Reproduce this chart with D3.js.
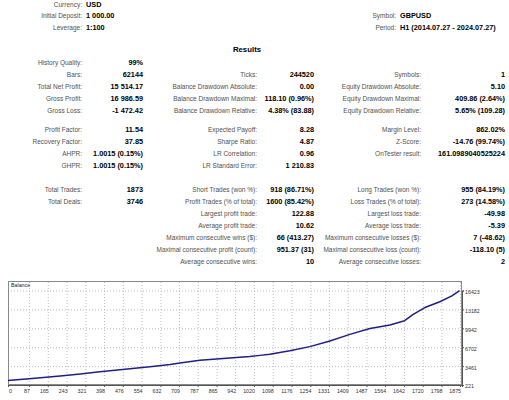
<!DOCTYPE html>
<html>
<head>
<meta charset="utf-8">
<script src="https://cdn.jsdelivr.net/npm/d3@7"></script>
<style>
  html, body { margin: 0; padding: 0; background: #fff; }
  svg { display: block; font-family: "Liberation Sans", Arial, sans-serif; }
  .lbl { font-size: 6.5px; fill: #505050; }
  .val { font-size: 7.3px; font-weight: bold; fill: #000; }
  .axis text { font-size: 5.3px; fill: #333; font-family: "Liberation Sans", Arial, sans-serif; }
</style>
</head>
<body>
<svg id="report" width="509" height="400"></svg>
<script>
// ── Header ────────────────────────────────────────────────────────────────────
const headLeftLabels  = ['Currency:', 'Initial Deposit:', 'Leverage:'];
const headLeftValues  = ['USD', '1 000.00', '1:100'];
const headRightLabels = ['Symbol:', 'Period:'];
const headRightValues = ['GBPUSD', 'H1 (2014.07.27 - 2024.07.27)'];

// ── Results table: one entry per row, null = empty cell ───────────────────────
const col1Labels = ['History Quality:', 'Bars:', 'Total Net Profit:', 'Gross Profit:', 'Gross Loss:',
  'Profit Factor:', 'Recovery Factor:', 'AHPR:', 'GHPR:',
  'Total Trades:', 'Total Deals:', null, null, null, null, null];
const col1Values = ['99%', '62144', '15 514.17', '16 986.59', '-1 472.42',
  '11.54', '37.85', '1.0015 (0.15%)', '1.0015 (0.15%)',
  '1873', '3746', null, null, null, null, null];
const col2Labels = [null, 'Ticks:', 'Balance Drawdown Absolute:', 'Balance Drawdown Maximal:', 'Balance Drawdown Relative:',
  'Expected Payoff:', 'Sharpe Ratio:', 'LR Correlation:', 'LR Standard Error:',
  'Short Trades (won %):', 'Profit Trades (% of total):', 'Largest profit trade:', 'Average profit trade:',
  'Maximum consecutive wins ($):', 'Maximal consecutive profit (count):', 'Average consecutive wins:'];
const col2Values = [null, '244520', '0.00', '118.10 (0.96%)', '4.38% (83.88)',
  '8.28', '4.87', '0.96', '1 210.83',
  '918 (86.71%)', '1600 (85.42%)', '122.88', '10.62',
  '66 (413.27)', '951.37 (31)', '10'];
const col3Labels = [null, 'Symbols:', 'Equity Drawdown Absolute:', 'Equity Drawdown Maximal:', 'Equity Drawdown Relative:',
  'Margin Level:', 'Z-Score:', 'OnTester result:', null,
  'Long Trades (won %):', 'Loss Trades (% of total):', 'Largest loss trade:', 'Average loss trade:',
  'Maximum consecutive losses ($):', 'Maximal consecutive loss (count):', 'Average consecutive losses:'];
const col3Values = [null, '1', '5.10', '409.86 (2.64%)', '5.65% (109.28)',
  '862.02%', '-14.76 (99.74%)', '161.0989040525224', null,
  '955 (84.19%)', '273 (14.58%)', '-49.98', '-5.39',
  '7 (-48.62)', '-118.10 (5)', '2'];

// ── Balance curve (trade # -> balance) ───────────────────────────────────────
const trades  = [0, 100, 216, 300, 381, 506, 589, 672, 713, 796, 920, 1003, 1045, 1086, 1169,
  1252, 1335, 1418, 1501, 1555, 1584, 1645, 1679, 1729, 1791, 1841, 1873];
const balance = [1000, 1350, 1756, 2100, 2489, 3000, 3341, 3750, 4000, 4450, 4850, 5114, 5300, 5500, 6100,
  6800, 7750, 8900, 9900, 10300, 10500, 11250, 12300, 13500, 14500, 15500, 16420];
const xTicks = [0, 87, 165, 243, 321, 398, 476, 554, 632, 709, 787, 865, 942, 1020, 1098,
  1176, 1254, 1331, 1409, 1487, 1564, 1642, 1720, 1798, 1875];
const yTicks = [221, 3461, 6702, 9942, 13182, 16423];

const svg = d3.select('#report');

// header block
const addPair = (lx, vx, y, label, value) => {
  svg.append('text').attr('class', 'lbl').attr('x', lx).attr('y', y)
    .attr('text-anchor', 'end').attr('dominant-baseline', 'middle').text(label);
  svg.append('text').attr('class', 'val').attr('x', vx).attr('y', y)
    .attr('dominant-baseline', 'middle').text(value);
};
headLeftLabels.forEach((l, i) => addPair(82, 86, 5 + i * 11.5, l, headLeftValues[i]));
headRightLabels.forEach((l, i) => addPair(396, 400, 16.5 + i * 11.5, l, headRightValues[i]));

svg.append('text').attr('x', 247).attr('y', 50).attr('text-anchor', 'middle')
  .attr('dominant-baseline', 'middle').style('font-size', '7.8px').style('font-weight', 'bold')
  .text('Results');

// row positions: three blocks separated by blank gaps
const rowY = i => i < 5 ? 63 + i * 12 : i < 9 ? 130 + (i - 5) * 12 : 190 + (i - 9) * 12;
const cols = [
  {labels: col1Labels, values: col1Values, lx: 82,  vx: 143},
  {labels: col2Labels, values: col2Values, lx: 257, vx: 314},
  {labels: col3Labels, values: col3Values, lx: 421, vx: 505}
];
cols.forEach(c => {
  c.labels.forEach((l, i) => {
    if (l == null) return;
    const y = rowY(i);
    svg.append('text').attr('class', 'lbl').attr('x', c.lx).attr('y', y)
      .attr('text-anchor', 'end').attr('dominant-baseline', 'middle').text(l);
    svg.append('text').attr('class', 'val').attr('x', c.vx).attr('y', y)
      .attr('text-anchor', 'end').attr('dominant-baseline', 'middle').text(c.values[i]);
  });
});

// ── Balance chart ─────────────────────────────────────────────────────────────
const L = 8, R = 462, T = 281, B = 385;
const x = d3.scaleLinear().domain([0, 1883]).range([L, R]);
const y = d3.scaleLinear().domain([221, 16423]).range([B, 290.5]);

const chart = svg.append('g');
chart.append('rect').attr('x', L).attr('y', T).attr('width', R - L).attr('height', B - T)
  .attr('fill', '#fff');

// dotted grid
chart.append('g').attr('transform', `translate(0,${B})`)
  .call(d3.axisBottom(x).tickValues(xTicks.slice(1)).tickSize(-(B - T)).tickFormat(''))
  .call(g => g.select('.domain').remove())
  .call(g => g.selectAll('line').attr('stroke', '#bdbdbd').attr('stroke-dasharray', '1,2'));
chart.append('g').attr('transform', `translate(${L},0)`)
  .call(d3.axisRight(y).tickValues(yTicks.slice(1)).tickSize(R - L).tickFormat(''))
  .call(g => g.select('.domain').remove())
  .call(g => g.selectAll('line').attr('stroke', '#bdbdbd').attr('stroke-dasharray', '1,2'));

chart.append('rect').attr('x', L + 0.5).attr('y', T + 0.5).attr('width', R - L - 1).attr('height', B - T - 1)
  .attr('fill', 'none').attr('stroke', '#8a8a8a').attr('stroke-width', 1);

chart.append('text').attr('x', L + 3).attr('y', T + 5).attr('dominant-baseline', 'middle')
  .style('font-size', '5.3px').attr('fill', '#222').text('Balance');

chart.append('path')
  .datum(trades.map((t, i) => [t, balance[i]]))
  .attr('fill', 'none').attr('stroke', '#1f1f86').attr('stroke-width', 1.5)
  .attr('stroke-linejoin', 'round')
  .attr('d', d3.line().x(d => x(d[0])).y(d => y(d[1])));

// axes labels
const xa = chart.append('g').attr('class', 'axis').attr('transform', `translate(0,${B})`)
  .call(d3.axisBottom(x).tickValues(xTicks).tickSize(2).tickPadding(2).tickFormat(d3.format('d')));
xa.select('.domain').attr('stroke', '#555');
xa.selectAll('line').attr('stroke', '#555');
xa.selectAll('text').attr('text-anchor', (d, i) => i === 0 ? 'start' : 'end').attr('dx', '0.5');

const ya = chart.append('g').attr('class', 'axis').attr('transform', `translate(${R},0)`)
  .call(d3.axisRight(y).tickValues(yTicks).tickSize(2).tickPadding(1).tickFormat(d3.format('d')));
ya.select('.domain').attr('stroke', '#555');
ya.selectAll('line').attr('stroke', '#555');
ya.selectAll('text').attr('dy', '0.55em');
</script>
</body>
</html>
